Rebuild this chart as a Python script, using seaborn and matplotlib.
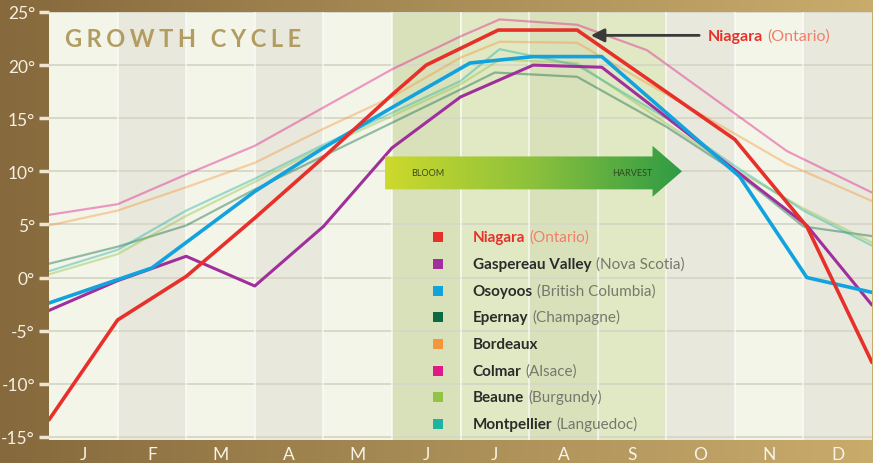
import numpy as np
import matplotlib
matplotlib.use('Agg')
import matplotlib.pyplot as plt
from matplotlib.colors import LinearSegmentedColormap
from matplotlib.patches import Polygon, Rectangle
import seaborn as sns

# month labels sit in the middle of each band, data points on a 0..12 scale
months = ['J', 'F', 'M', 'A', 'M', 'J', 'J', 'A', 'S', 'O', 'N', 'D']
yticks = [-15, -10, -5, 0, 5, 10, 15, 20, 25]

niagara_x = [0, 1, 2, 3, 4, 5, 5.5, 6.55, 7.7, 10, 11.05, 12]
niagara_t = [-13.4, -4.0, 0.1, 5.6, 11.3, 17.2, 20.0, 23.3, 23.3, 13.0, 4.8, -8.0]

gaspereau_x = [0, 1, 2, 3, 4, 5, 6, 7.06, 8.06, 11.05, 12]
gaspereau_t = [-3.1, -0.3, 2.0, -0.8, 4.8, 12.2, 17.0, 20.0, 19.8, 4.9, -2.6]

osoyoos_x = [0, 1, 1.5, 2, 3, 4, 5, 6.14, 7.06, 8.06, 10.07, 11.05, 12]
osoyoos_t = [-2.4, -0.2, 0.9, 3.3, 8.1, 12.2, 16.0, 20.2, 20.8, 20.8, 9.5, 0.0, -1.4]

epernay_x = [0, 1, 2, 3, 6, 6.5, 7.7, 9, 10, 11, 12]
epernay_t = [1.3, 2.9, 4.9, 8.3, 17.7, 19.3, 18.9, 14.2, 10.0, 4.8, 3.9]

bordeaux_x = [0, 1, 2, 3, 4, 5, 6, 6.57, 7.7, 10.76, 12]
bordeaux_t = [4.9, 6.3, 8.5, 10.8, 14.0, 17.0, 20.7, 22.2, 22.1, 10.7, 7.2]

colmar_x = [0, 1, 2, 3, 4, 5, 6, 6.57, 7.7, 8.72, 10.76, 12]
colmar_t = [5.9, 6.9, 9.7, 12.4, 16.0, 19.6, 22.7, 24.3, 23.8, 21.4, 11.9, 8.0]

beaune_x = [0, 1, 2, 3, 4, 5, 6, 6.57, 7.7, 9, 10, 11, 12]
beaune_t = [0.3, 2.2, 5.8, 9.0, 12.3, 15.2, 18.2, 20.5, 20.2, 14.5, 10.2, 6.5, 3.3]

montpellier_x = [0, 1, 2, 3, 4, 5, 6, 6.57, 7.7, 9, 10, 11, 12]
montpellier_t = [0.6, 2.6, 6.3, 9.3, 12.5, 15.5, 18.5, 21.5, 20.0, 15.0, 10.5, 6.3, 3.0]

names = ['Niagara', 'Gaspereau Valley', 'Osoyoos', 'Epernay', 'Bordeaux',
         'Colmar', 'Beaune', 'Montpellier']
regions = ['(Ontario)', '(Nova Scotia)', '(British Columbia)', '(Champagne)', '',
           '(Alsace)', '(Burgundy)', '(Languedoc)']
colors = ['#e8302a', '#a02f9c', '#12a2de', '#0b6a42', '#f5963c',
          '#e0188a', '#92c246', '#1fb2a2']

series = [(niagara_x, niagara_t), (gaspereau_x, gaspereau_t), (osoyoos_x, osoyoos_t),
          (epernay_x, epernay_t), (bordeaux_x, bordeaux_t), (colmar_x, colmar_t),
          (beaune_x, beaune_t), (montpellier_x, montpellier_t)]

sns.set_style('white')
plt.rcParams['font.family'] = ['Lato', 'DejaVu Sans']

fig = plt.figure(figsize=(8.73, 4.64), dpi=100)

# gold background
bg = fig.add_axes([0, 0, 1, 1], zorder=-10)
grad = np.linspace(0, 1, 256).reshape(1, -1)
bg.imshow(grad, aspect='auto', extent=[0, 1, 0, 1],
          cmap=LinearSegmentedColormap.from_list('gold', ['#86693c', '#a98d56', '#c9ab6c']))
bg.axis('off')

ax = fig.add_axes([49 / 873, 1 - 441 / 464, 823 / 873, 428 / 464])

# month bands
for i in range(12):
    ax.axvspan(i, i + 1, color='#f4f5e9' if i % 2 == 0 else '#e8e9dc', lw=0, zorder=0)
ax.axvspan(5, 9, color='#c3d78a', alpha=0.4, lw=0, zorder=0.5)
for v in yticks:
    ax.axhline(v, color='#d6d7c7', lw=1.3, zorder=1)
for i in range(1, 12):
    ax.axvline(i, color='white', lw=1.2, alpha=0.7, zorder=1)

# thin faded lines first, bold ones on top
order = [5, 4, 3, 6, 7, 1, 2, 0]
for k in order:
    xs, ts = series[k]
    if k in (0, 1, 2):
        lw, alpha = (2.6 if k != 1 else 2.2), 1.0
    else:
        lw, alpha = 1.6, 0.42
    sns.lineplot(x=xs, y=ts, ax=ax, color=colors[k], lw=lw, alpha=alpha,
                 errorbar=None, legend=False, zorder=3 + order.index(k) * 0.1)

# BLOOM -> HARVEST arrow
pts = [(4.9, 8.3), (8.8, 8.3), (8.8, 7.6), (9.23, 10.0), (8.8, 12.4), (8.8, 11.4), (4.9, 11.4)]
shape = Polygon(pts, closed=True, fc='none', ec='none')
ax.add_patch(shape)
im = ax.imshow(grad, extent=[4.9, 9.23, 7.6, 12.4], aspect='auto', zorder=5,
               cmap=LinearSegmentedColormap.from_list('arr', ['#cdd92c', '#8cc13c', '#2f9b45']))
im.set_clip_path(shape)
ax.text(5.52, 9.9, 'BLOOM', fontsize=6.5, color='#3b4a1e', ha='center', va='center', zorder=6)
ax.text(8.51, 9.9, 'HARVEST', fontsize=6.5, color='#2c4a1e', ha='center', va='center', zorder=6)

# Niagara callout
t1 = ax.text(0.8007, 0.944, 'Niagara', color='#e5322a', fontweight='bold', fontsize=11.5,
             transform=ax.transAxes, va='center', ha='left', zorder=6)
ax.annotate('(Ontario)', xy=(1, 0), xycoords=t1, xytext=(3, 0), textcoords='offset points',
            va='bottom', color='#f07f6a', fontsize=11.5, zorder=6)
ax.annotate('', xy=(7.9, 22.8), xytext=(9.48, 22.8), zorder=6,
            arrowprops=dict(arrowstyle='-|>', color='#3a3a3a', lw=2, mutation_scale=20,
                            shrinkA=0, shrinkB=0))

# legend
for i, (nm, rg, c) in enumerate(zip(names, regions, colors)):
    y = 0.474 - i * 0.0624
    ax.add_patch(Rectangle((0.4727 - 5 / 823, y - 5 / 428), 10 / 823, 10 / 428,
                           transform=ax.transAxes, color=c, lw=0, zorder=6))
    t = ax.text(0.515, y, nm, transform=ax.transAxes, fontsize=11, fontweight='bold',
                color='#e5322a' if i == 0 else '#2b2b2b', va='center', ha='left', zorder=6)
    if rg:
        ax.annotate(rg, xy=(1, 0), xycoords=t, xytext=(3, 0), textcoords='offset points',
                    va='bottom', fontsize=11, color='#f07f6a' if i == 0 else '#77776d', zorder=6)

# title
ax.text(0.0194, 0.939, '\u2009\u200a'.join('GROWTH CYCLE'), transform=ax.transAxes,
        fontsize=17, fontweight='bold', color='#b29c62', va='center', ha='left', zorder=6)

ax.set_xlim(0, 12)
ax.set_ylim(-15.3, 25)
ax.set_yticks(yticks)
ax.set_yticklabels([f'{v}°' for v in yticks])
ax.set_xticks(np.arange(12) + 0.5)
ax.set_xticklabels(months)
ax.tick_params(axis='y', length=7, width=2.5, color='#eee6d2', labelcolor='#f6f0e2',
               labelsize=12.5, pad=3, left=True)
ax.tick_params(axis='x', length=0, labelcolor='#f8f3e6', labelsize=12.5, pad=4)
ax.set_xlabel('')
ax.set_ylabel('')
for s in ax.spines.values():
    s.set_visible(False)

fig.savefig('out.png', dpi=100)
